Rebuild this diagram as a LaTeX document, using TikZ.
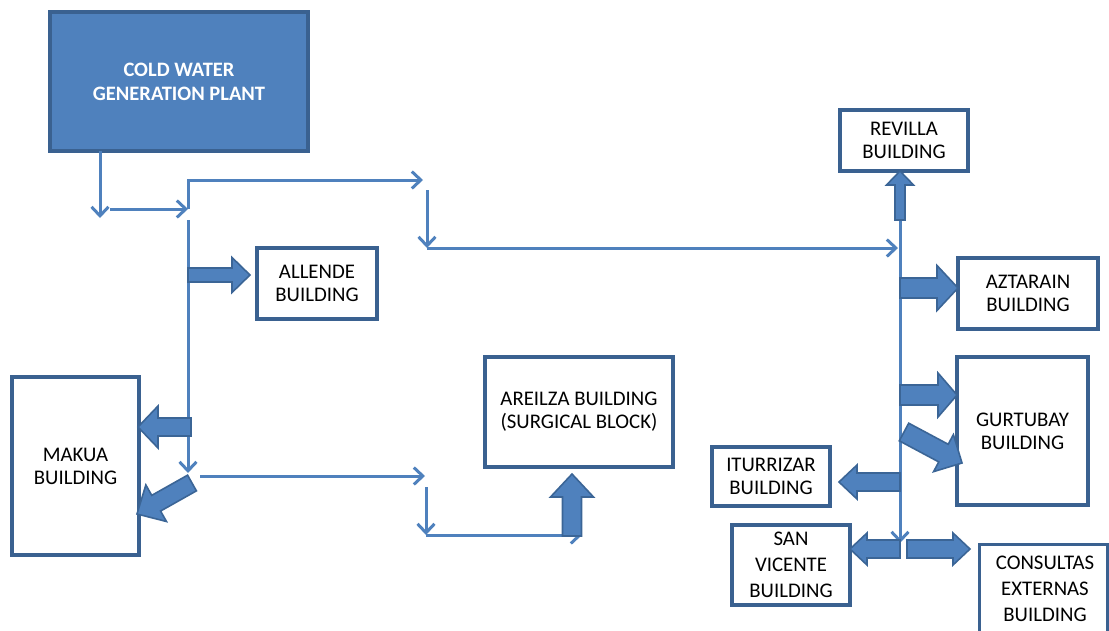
\documentclass[tikz,border=0pt]{standalone}
\usepackage{fontspec}
\setmainfont{Carlito}
\usetikzlibrary{arrows.meta,calc}
\definecolor{flowblue}{HTML}{4F81BD}
\definecolor{boxborder}{HTML}{3A6190}
\definecolor{fatborder}{HTML}{3B6596}
\newcommand\bfont{\fontsize{20.8}{23}\selectfont}
\newcommand\tfont{\fontsize{20.8}{26}\selectfont}
\newcommand\pfont{\fontsize{20.5}{24}\selectfont\bfseries}
\newcommand\fatarrow[5]{%
  \coordinate (fh) at ($(#2)!#5!(#1)$);
  \draw[fat] ($(#1)!#3!90:(#2)$) -- ($(fh)!#3!-90:(#1)$) -- ($(fh)!#4!-90:(#1)$) -- (#2)
    -- ($(fh)!#4!90:(#1)$) -- ($(fh)!#3!90:(#1)$) -- ($(#1)!#3!-90:(#2)$) -- cycle;
}
\tikzset{
  bldg/.style={draw=boxborder, line width=3.2pt, fill=white, align=center, inner sep=0pt, font=\bfont, text=black},
  plant/.style={draw=boxborder, line width=3.2pt, fill=flowblue, align=center, inner sep=0pt, font=\pfont, text=white},
  flow/.style={draw=flowblue, line width=3pt, -{Straight Barb[length=9pt,width=17pt]}},
  fat/.style={fill=flowblue, draw=fatborder, line width=1.6pt, line join=miter},
}
\begin{document}
\begin{tikzpicture}[x=1pt,y=-1pt]
\useasboundingbox (0,0) rectangle (1109,630);
\clip (0,0) rectangle (1109,630);
% nodes
\node[plant, minimum width=258pt, minimum height=139pt] (plant) at (179,81.5) {COLD WATER\\GENERATION PLANT};
\node[bldg, minimum width=120pt, minimum height=71pt] (allende) at (317,283.5) {ALLENDE\\BUILDING};
\node[bldg, minimum width=127pt, minimum height=178pt] (makua) at (75.5,466) {MAKUA\\BUILDING};
\node[bldg, minimum width=188pt, minimum height=110pt] (areilza) at (579,412) {AREILZA BUILDING\\(SURGICAL BLOCK)};
\node[bldg, minimum width=128pt, minimum height=61pt] (revilla) at (904,140.5) {REVILLA\\BUILDING};
\node[bldg, minimum width=140pt, minimum height=71pt] (aztarain) at (1028,293.5) {AZTARAIN\\BUILDING};
\node[bldg, minimum width=131pt, minimum height=148pt] (gurtubay) at (1022.5,431) {GURTUBAY\\BUILDING};
\node[bldg, minimum width=118pt, minimum height=59pt] (iturrizar) at (771,476.5) {ITURRIZAR\\BUILDING};
\node[bldg, font=\tfont, minimum width=118pt, minimum height=80pt] (sanvicente) at (791,565) {SAN\\VICENTE\\BUILDING};
\node[bldg, font=\tfont, minimum width=128pt, minimum height=100pt, anchor=north west] (consultas) at (978,543) {};
\node[font=\tfont, align=center, anchor=north, inner sep=0pt] (constext) at (1045,556) {CONSULTAS\\EXTERNAS\\BUILDING};
% thin flow lines
\coordinate (a0) at (100,151);
\coordinate (a1) at (100,218);
\draw[flow] (a0) -- (a1);
\coordinate (b0) at (110,209);
\coordinate (b1) at (188,209);
\draw[flow] (b0) -- (b1);
\coordinate (c1) at (188,180);
\coordinate (c2) at (423,180);
\draw[flow] (b1) -- (c1) -- (c2);
\coordinate (d0) at (427,190);
\coordinate (d1) at (427,248);
\draw[flow] (d0) -- (d1);
\coordinate (e1) at (898,248);
\draw[flow] (d1) -- (e1);
\coordinate (t0) at (900,220);
\coordinate (t1) at (900,543);
\draw[flow] (t0) -- (t1);
\coordinate (l0) at (188,220);
\coordinate (l1) at (188,473);
\draw[flow] (l0) -- (l1);
\coordinate (m0) at (200,476);
\coordinate (m1) at (425,476);
\draw[flow] (m0) -- (m1);
\coordinate (n0) at (426,487);
\coordinate (n1) at (426,535);
\coordinate (n2) at (582,535);
\draw[flow] (n0) -- (n1);
\draw[flow] (n1) -- (n2);
% fat arrows
\coordinate (fa0) at (188,275);   \coordinate (fa1) at (250,275);
\fatarrow{fa0}{fa1}{7pt}{17.5pt}{18pt}
\coordinate (fb0) at (191,427);   \coordinate (fb1) at (138,427);
\fatarrow{fb0}{fb1}{9pt}{21pt}{20pt}
\coordinate (fc0) at (192,483);   \coordinate (fc1) at (137,514);
\fatarrow{fc0}{fc1}{9pt}{21pt}{22pt}
\coordinate (fd0) at (572,536);   \coordinate (fd1) at (572,474);
\fatarrow{fd0}{fd1}{9.5pt}{21.5pt}{23pt}
\coordinate (fe0) at (900,220);   \coordinate (fe1) at (900,171);
\fatarrow{fe0}{fe1}{5pt}{13.5pt}{14pt}
\coordinate (ff0) at (900,288);   \coordinate (ff1) at (958,288);
\fatarrow{ff0}{ff1}{10pt}{22.5pt}{21pt}
\coordinate (fg0) at (900,395);   \coordinate (fg1) at (957,395);
\fatarrow{fg0}{fg1}{10pt}{22pt}{19pt}
\coordinate (fh0) at (904,432);   \coordinate (fh1) at (962,463);
\fatarrow{fh0}{fh1}{10pt}{21pt}{21pt}
\coordinate (fi0) at (900,482);   \coordinate (fi1) at (839,482);
\fatarrow{fi0}{fi1}{9pt}{17pt}{18pt}
\coordinate (fj0) at (900,549);   \coordinate (fj1) at (850,549);
\fatarrow{fj0}{fj1}{9pt}{16pt}{17pt}
\coordinate (fk0) at (907,549);   \coordinate (fk1) at (970,549);
\fatarrow{fk0}{fk1}{9pt}{16pt}{17pt}
\end{tikzpicture}
\end{document}
